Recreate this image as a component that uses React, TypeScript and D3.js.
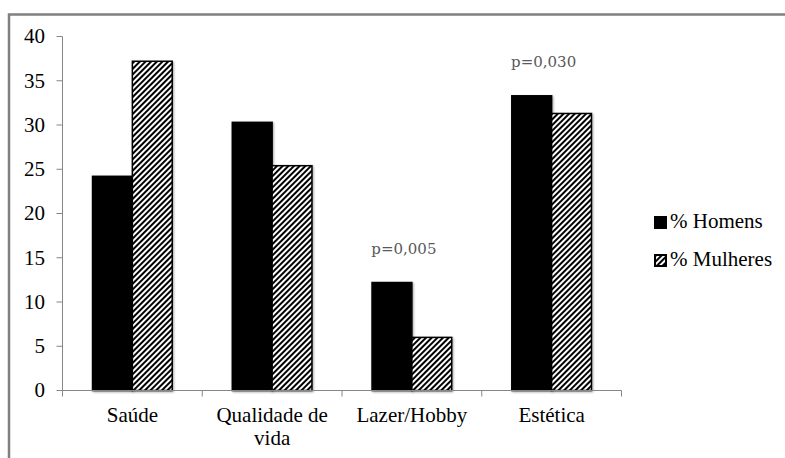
import React from "react";
import * as d3 from "d3";

const categories = ["Saúde", "Qualidade de vida", "Lazer/Hobby", "Estética"];
const categoryLines = [["Saúde"], ["Qualidade de", "vida"], ["Lazer/Hobby"], ["Estética"]];
const seriesNames = ["% Homens", "% Mulheres"];
const homens = [24.2, 30.3, 12.2, 33.3];
const mulheres = [37.2, 25.4, 6.0, 31.3];
const yTicks = [0, 5, 10, 15, 20, 25, 30, 35, 40];
const annotations = [
  { category: "Lazer/Hobby", text: "p=0,005" },
  { category: "Estética", text: "p=0,030" },
];

const W = 785;
const H = 458;
const left = 62.5;
const right = 621.5;
const top = 36.5;
const bottom = 390.5;
const FONT = "'Liberation Serif', serif";
const PFONT = "'DejaVu Serif', serif";

export default function App() {
  const y = d3.scaleLinear().domain([0, 40]).range([bottom, top]);
  const x0 = d3
    .scaleBand<string>()
    .domain(categories)
    .range([left, right])
    .paddingInner(0.43)
    .paddingOuter(0.215);
  const x1 = d3.scaleBand<string>().domain(seriesNames).range([0, x0.bandwidth()]);
  const step = x0.step();
  const boundaries = d3.range(categories.length + 1).map((i) => left + i * step);
  const values = [homens, mulheres];

  return (
    <svg
      width={W}
      height={H}
      style={{ position: "absolute", left: 0, top: 0, background: "#fff" }}
    >
      <defs>
        <pattern
          id="hatch"
          patternUnits="userSpaceOnUse"
          width={4}
          height={4}
          patternTransform="rotate(45)"
        >
          <rect x={0} y={0} width={4} height={4} fill="#fff" />
          <rect x={0} y={0} width={2} height={4} fill="#000" />
        </pattern>
        <filter id="shadow" x="-20%" y="-20%" width="140%" height="140%">
          <feDropShadow dx={1} dy={1} stdDeviation={1} floodColor="#000" floodOpacity={0.35} />
        </filter>
      </defs>
      <rect x={0} y={0} width={W} height={H} fill="#fff" />
      {/* outer frame */}
      <rect x={9} y={14.5} width={790} height={470} fill="none" stroke="#808080" strokeWidth={2.5} />

      {/* y axis */}
      <line x1={left} x2={left} y1={top} y2={bottom} stroke="#868686" strokeWidth={1} />
      {yTicks.map((t) => (
        <g key={t}>
          <line x1={left - 6} x2={left} y1={y(t)} y2={y(t)} stroke="#868686" strokeWidth={1} />
          <text
            x={45}
            y={y(t)}
            dy="0.33em"
            textAnchor="end"
            fontFamily={FONT}
            fontSize={21}
            fill="#000"
          >
            {t}
          </text>
        </g>
      ))}

      {/* bars */}
      {categories.map((c, ci) => (
        <g key={c} transform={`translate(${x0(c)},0)`}>
          {seriesNames.map((s, si) => {
            const v = values[si][ci];
            return (
              <rect
                key={s}
                x={x1(s)}
                y={y(v)}
                width={x1.bandwidth()}
                height={y(0) - y(v)}
                fill={si === 0 ? "#000" : "url(#hatch)"}
                stroke="#000"
                strokeWidth={1.5}
                filter="url(#shadow)"
              />
            );
          })}
        </g>
      ))}

      {/* x axis */}
      <line x1={left} x2={right} y1={bottom} y2={bottom} stroke="#868686" strokeWidth={1} />
      {boundaries.map((bx, i) => (
        <line key={i} x1={bx} x2={bx} y1={bottom} y2={bottom + 6} stroke="#868686" strokeWidth={1} />
      ))}
      {categories.map((c, ci) => (
        <text
          key={c}
          x={(x0(c) as number) + x0.bandwidth() / 2}
          y={422}
          textAnchor="middle"
          fontFamily={FONT}
          fontSize={21}
          fill="#000"
        >
          {categoryLines[ci].map((line, li) => (
            <tspan key={li} x={(x0(c) as number) + x0.bandwidth() / 2} dy={li === 0 ? 0 : 23}>
              {line}
            </tspan>
          ))}
        </text>
      ))}

      {/* annotations */}
      {annotations.map((a) => {
        const ci = categories.indexOf(a.category);
        const maxV = Math.max(homens[ci], mulheres[ci]);
        return (
          <text
            key={a.text}
            x={(x0(a.category) as number) + x0.bandwidth() / 2 - 8}
            y={y(maxV) - 29}
            textAnchor="middle"
            fontFamily={PFONT}
            fontSize={15}
            fill="#595959"
            transform=""
          >
            {a.text}
          </text>
        );
      })}

      {/* legend */}
      {seriesNames.map((s, si) => (
        <g key={s} transform={`translate(655,${217 + si * 38})`}>
          <rect
            x={0}
            y={0}
            width={11}
            height={11}
            fill={si === 0 ? "#000" : "url(#hatch)"}
            stroke="#000"
            strokeWidth={2}
          />
          <text x={15} y={11} fontFamily={FONT} fontSize={21} fill="#000">
            {s}
          </text>
        </g>
      ))}
    </svg>
  );
}
